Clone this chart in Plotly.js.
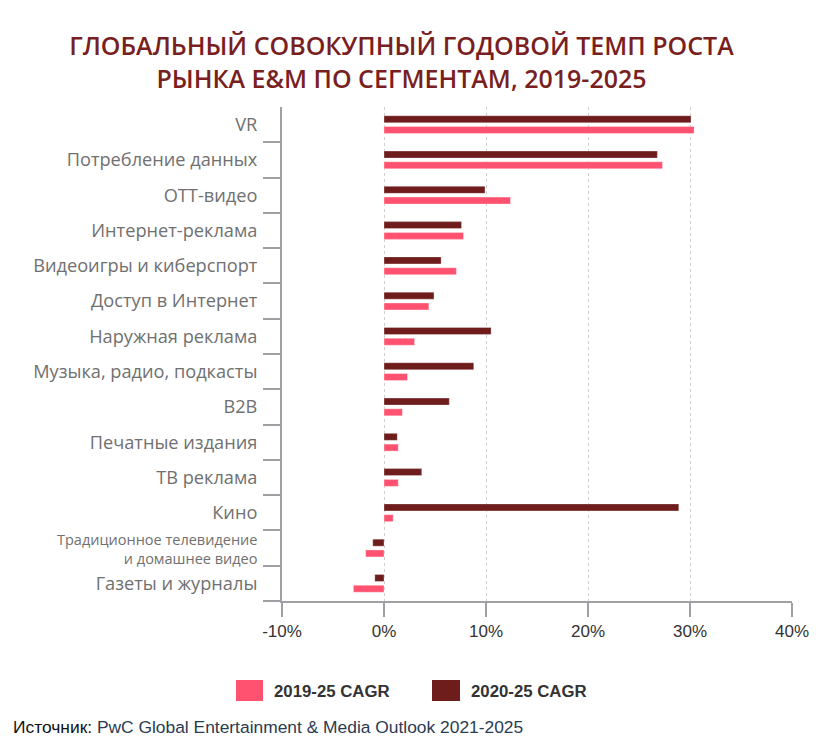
<!DOCTYPE html>
<html>
<head>
<meta charset="utf-8">
<script src="https://cdn.plot.ly/plotly-3.0.1.min.js"></script>
<style>
  html, body { margin: 0; padding: 0; background: #fff; }
  #chart { width: 823px; height: 743px; }
</style>
</head>
<body>
<div id="chart"></div>
<script>
// Segments, listed top to bottom
const segments = [
  "VR",
  "Потребление данных",
  "OTT-видео",
  "Интернет-реклама",
  "Видеоигры и киберспорт",
  "Доступ в Интернет",
  "Наружная реклама",
  "Музыка, радио, подкасты",
  "B2B",
  "Печатные издания",
  "ТВ реклама",
  "Кино",
  "Традиционное телевидение и домашнее видео",
  "Газеты и журналы"
];

// CAGR, %
const cagr2019_25 = [30.4, 27.3, 12.4, 7.8, 7.1, 4.4, 3.0, 2.3, 1.8, 1.4, 1.4, 0.9, -1.8, -3.0];
const cagr2020_25 = [30.1, 26.8, 9.9, 7.6, 5.6, 4.9, 10.5, 8.8, 6.4, 1.3, 3.7, 28.9, -1.1, -0.9];

const seriesNames = ["2019-25 CAGR", "2020-25 CAGR"];
const xTicks = [-10, 0, 10, 20, 30, 40];
const titleText = "ГЛОБАЛЬНЫЙ СОВОКУПНЫЙ ГОДОВОЙ ТЕМП РОСТА<br>РЫНКА E&M ПО СЕГМЕНТАМ, 2019-2025";
// the long segment name is set on two lines in a smaller size
const longSegment = "Традиционное телевидение и домашнее видео";
const longSegmentLabel = "Традиционное телевидение<br>и домашнее видео";

const pink = "#ff5270";
const maroon = "#6e1d1c";

const tickText = segments.map(s => (s === longSegment ? "" : s));

const traces = [
  {
    type: "bar", orientation: "h", name: seriesNames[0],
    y: segments, x: cagr2019_25,
    marker: { color: pink, line: { color: "rgba(255,255,255,0.35)", width: 1 } },
    hoverinfo: "x+name", showlegend: false
  },
  {
    type: "bar", orientation: "h", name: seriesNames[1],
    y: segments, x: cagr2020_25,
    marker: { color: maroon, line: { color: "rgba(255,255,255,0.3)", width: 1 } },
    hoverinfo: "x+name", showlegend: false
  }
];

// pixel helpers for the paper-referenced decorations
const plotL = 282, plotW = 510, plotT = 107, plotH = 494;
const px = v => (v - plotL) / plotW;
const py = y => 1 - (y - plotT) / plotH;

// legend drawn as large swatches below the plot
const legendSwatches = [
  { x0: 236, x1: 263, color: pink, label: seriesNames[0], tx: 272 },
  { x0: 432, x1: 460, color: maroon, label: seriesNames[1], tx: 469 }
];

const shapes = legendSwatches.map(s => ({
  type: "rect", xref: "paper", yref: "paper",
  x0: px(s.x0), x1: px(s.x1), y0: py(701), y1: py(680),
  fillcolor: s.color, line: { width: 0 }
}));

const annotations = legendSwatches.map(s => ({
  xref: "paper", yref: "paper", x: px(s.tx), y: py(691),
  xanchor: "left", yanchor: "middle", showarrow: false,
  text: "<b>" + s.label + "</b>",
  font: { family: "Liberation Sans, Arial, sans-serif", size: 16.8, color: "#333" }
}));

// two-line category label
annotations.push({
  xref: "paper", yref: "y", x: px(259), y: longSegment,
  xanchor: "right", yanchor: "middle", align: "right", showarrow: false,
  yshift: -1,
  text: longSegmentLabel,
  font: { family: "Open Sans, sans-serif", size: 14.5, color: "#707070" }
});

annotations.push({
  xref: "paper", yref: "paper", x: px(11), y: py(727),
  xanchor: "left", yanchor: "middle", showarrow: false,
  text: 'Источник: <span style="color:#2a3b52">PwC Global Entertainment &amp; Media Outlook 2021-2025</span>',
  font: { family: "Liberation Sans, Arial, sans-serif", size: 17.4, color: "#111" }
});

const layout = {
  width: 823, height: 743,
  paper_bgcolor: "#fff", plot_bgcolor: "#fff",
  margin: { l: 282, r: 31, t: 107, b: 142 },
  title: {
    text: titleText,
    x: 401.5 / 823, xref: "container", xanchor: "center",
    y: 1 - 55 / 743, yref: "container", yanchor: "middle",
    font: { family: "Open Sans, sans-serif", size: 25, color: "#7a1f1f", weight: 600 }
  },
  barmode: "group",
  bargap: 0.39,
  bargroupgap: 0.35,
  showlegend: false,
  xaxis: {
    range: [-10, 40],
    tickvals: xTicks,
    ticktext: xTicks.map(v => v + "%"),
    ticks: "outside", ticklen: 14, tickwidth: 2, tickcolor: "#a0a0a4",
    showline: true, linecolor: "#a0a0a4", linewidth: 2,
    showgrid: true, gridcolor: "#cfcfcf", griddash: "dot", gridwidth: 1,
    zeroline: false,
    tickfont: { family: "Liberation Sans, Arial, sans-serif", size: 17, color: "#333" },
    fixedrange: true
  },
  yaxis: {
    type: "category",
    categoryorder: "array",
    categoryarray: segments.slice().reverse(),
    tickmode: "array",
    tickvals: segments,
    ticktext: tickText,
    tickson: "boundaries",
    ticks: "outside", ticklen: 17, tickwidth: 2, tickcolor: "#a0a0a4",
    ticklabelstandoff: 19,
    showline: true, linecolor: "#a0a0a4", linewidth: 2,
    showgrid: false, zeroline: false,
    tickfont: { family: "Open Sans, sans-serif", size: 18.2, color: "#707070" },
    fixedrange: true
  },
  shapes: shapes,
  annotations: annotations
};

Plotly.newPlot("chart", traces, layout, { displayModeBar: false, staticPlot: true });
</script>
</body>
</html>
